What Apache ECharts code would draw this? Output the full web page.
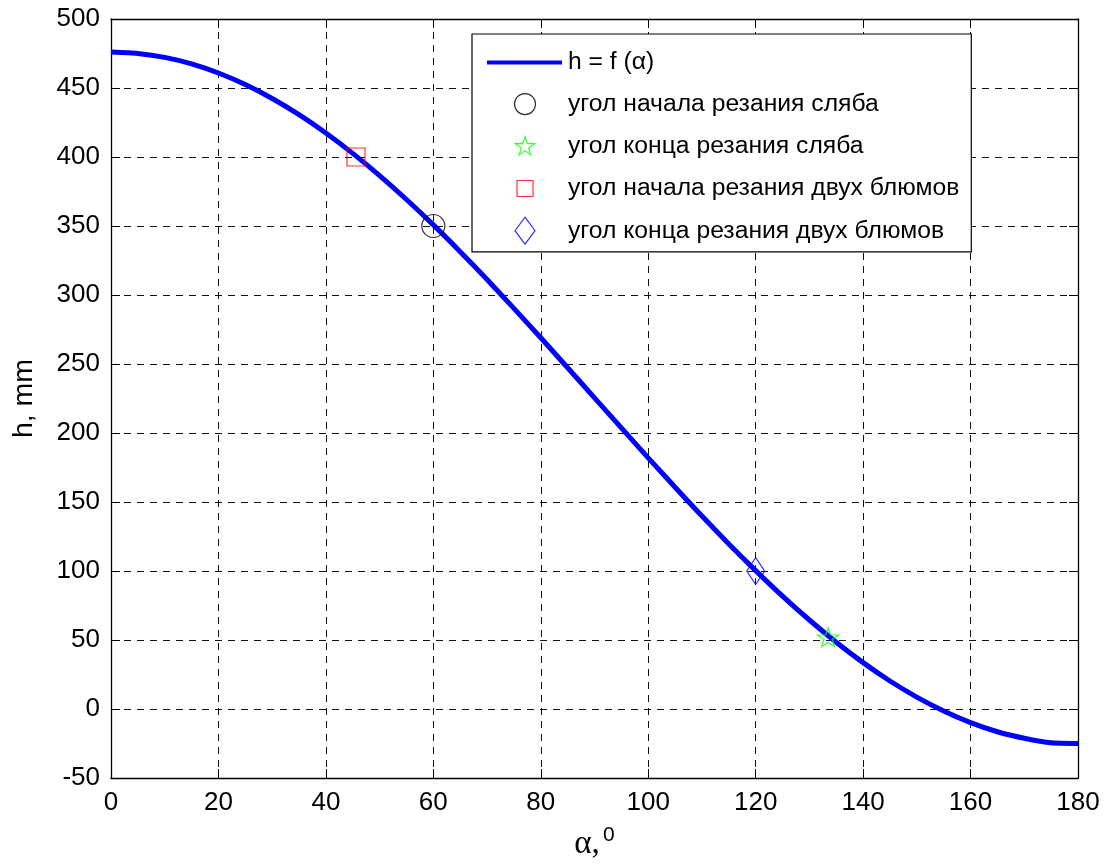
<!DOCTYPE html>
<html>
<head>
<meta charset="utf-8">
<title>h = f(α)</title>
<script src="https://cdn.jsdelivr.net/npm/echarts@6/dist/echarts.min.js"></script>
<style>
  html, body { margin: 0; padding: 0; background: #fff; }
  #chart { width: 1112px; height: 866px; }
</style>
</head>
<body>
<div id="chart"></div>
<script>
// данные
const alpha = [0, 5, 10, 15, 20, 25, 30, 35, 40, 45, 50, 55, 60, 65, 70, 75, 80, 85, 90,
  95, 100, 105, 110, 115, 120, 125, 130, 135, 140, 145, 150, 155, 160, 165, 170, 175, 180];
const h = [476, 475.0, 472.2, 467.5, 460.9, 452.5, 442.4, 430.7, 417.4, 402.6, 386.5, 369.2, 350.8,
  331.4, 311.2, 290.3, 269.0, 247.3, 225.5, 203.7, 182.0, 160.7, 139.8, 119.6, 100.3, 81.8, 64.5,
  48.4, 33.6, 20.3, 8.6, -1.5, -9.9, -16.5, -21.2, -24.5, -25];

const xTicks = [0, 20, 40, 60, 80, 100, 120, 140, 160, 180];
const yTicks = [-50, 0, 50, 100, 150, 200, 250, 300, 350, 400, 450, 500];

const lineName = 'h = f (α)';
const markerNames = [
  'угол начала резания сляба',
  'угол конца резания сляба',
  'угол начала резания двух блюмов',
  'угол конца резания двух блюмов'
];
const markerPoints = [[60, 350], [133.5, 52], [45.6, 400], [120, 100]];

// стили маркеров (как в matlab: o, p, s, d)
const FONT = '"Liberation Sans", Arial, sans-serif';
const STAR = 'M10,0L12.245,6.91L19.51,6.91L13.63,11.18L15.88,18.09L10,13.82L4.12,18.09L6.37,11.18L0.49,6.91L7.755,6.91Z';
const markerStyle = [
  { symbol: 'path://M21,10.5A10.5,10.5,0,1,1,0,10.5A10.5,10.5,0,1,1,21,10.5Z', size: [23, 23], color: '#000000',
    icon: 'path://M0,0M27,27M24,13.5A10.5,10.5,0,1,1,3,13.5A10.5,10.5,0,1,1,24,13.5Z' },
  { symbol: 'path://' + STAR, size: [21, 20], color: '#00ff00',
    icon: 'path://M-3.5,-4M23.5,23' + STAR },
  { symbol: 'path://M0,0L1,0L1,1L0,1Z', size: [18, 18], color: '#ff0000',
    icon: 'path://M0,0M27,27M5.5,5.5L21.5,5.5L21.5,21.5L5.5,21.5Z' },
  { symbol: 'path://M11,0L22,13.5L11,27L0,13.5Z', size: [22, 27], color: '#0000ff',
    icon: 'path://M0,0M27,27M13.5,0L23.5,13.5L13.5,27L3.5,13.5Z' }
];
// значок линии в легенде: полоса по ширине значка
const LINE_ICON = 'path://M0,0M76,27M0,11.5L75,11.5L75,15.5L0,15.5Z';

const chart = echarts.init(document.getElementById('chart'));

const gridLine = { show: true, lineStyle: { color: '#111', width: 1, type: [7, 6] } };
const axisLine = { show: true, onZero: false, lineStyle: { color: '#000', width: 1.3 } };
const axisTick = { show: true, inside: true, length: 9, lineStyle: { color: '#000', width: 1 } };

const xBase = { type: 'value', min: xTicks[0], max: xTicks[xTicks.length - 1], interval: xTicks[1] - xTicks[0] };
const yBase = { type: 'value', min: yTicks[0], max: yTicks[yTicks.length - 1], interval: yTicks[1] - yTicks[0] };

const series = [{
  name: lineName,
  type: 'line',
  data: alpha.map((a, i) => [a, h[i]]),
  symbol: 'none',
  showSymbol: false,
  smooth: 0.2,
  lineStyle: { color: '#0000ff', width: 5 },
  itemStyle: { color: '#0000ff' },
  z: 2
}];
markerNames.forEach((name, i) => {
  const m = markerStyle[i];
  series.push({
    name: name,
    type: 'scatter',
    data: [markerPoints[i]],
    symbol: m.symbol,
    symbolSize: m.size,
    symbolKeepAspect: true,
    itemStyle: { color: 'transparent', borderColor: m.color, borderWidth: 1.2 },
    emphasis: { disabled: true },
    z: 3
  });
});

chart.setOption({
  animation: false,
  backgroundColor: '#fff',
  textStyle: { fontFamily: FONT },
  grid: { left: 111, right: 34, top: 19, bottom: 88 },
  legend: {
    orient: 'vertical',
    left: 472,
    top: 34,
    padding: [15, 12, 7, 15],
    itemWidth: 76,
    itemHeight: 27,
    itemGap: 14,
    symbolKeepAspect: true,
    backgroundColor: '#fff',
    borderColor: '#000',
    borderWidth: 1.2,
    borderRadius: 0,
    selectedMode: false,
    textStyle: { fontSize: 24.7, lineHeight: 27, color: '#000', fontFamily: FONT },
    data: [{
      name: lineName,
      icon: LINE_ICON,
      itemStyle: { color: '#0000ff', borderWidth: 0 }
    }].concat(markerNames.map((name, i) => ({
      name: name,
      icon: markerStyle[i].icon,
      itemStyle: { color: 'transparent', borderColor: markerStyle[i].color, borderWidth: 1.2 }
    })))
  },
  xAxis: [
    Object.assign({}, xBase, {
      position: 'bottom',
      name: '{a|α,} {b|0}',
      nameLocation: 'middle',
      nameGap: 47,
      nameTextStyle: {
        color: '#000',
        rich: {
          a: { fontSize: 33, lineHeight: 36, fontFamily: '"Liberation Serif", serif', color: '#000', verticalAlign: 'bottom' },
          b: { fontSize: 21, lineHeight: 20, fontFamily: FONT, color: '#000', verticalAlign: 'top' }
        }
      },
      axisLine: axisLine,
      axisTick: axisTick,
      axisLabel: { fontSize: 26, color: '#000', margin: 12, fontFamily: FONT },
      splitLine: gridLine
    }),
    Object.assign({}, xBase, {
      position: 'top',
      axisLine: axisLine,
      axisTick: axisTick,
      axisLabel: { show: false },
      splitLine: { show: false }
    })
  ],
  yAxis: [
    Object.assign({}, yBase, {
      position: 'left',
      name: 'h, mm',
      nameLocation: 'middle',
      nameGap: 72,
      nameTextStyle: { fontSize: 28.5, color: '#000', fontFamily: FONT },
      axisLine: axisLine,
      axisTick: axisTick,
      axisLabel: { fontSize: 26, color: '#000', margin: 11, fontFamily: FONT },
      splitLine: gridLine
    }),
    Object.assign({}, yBase, {
      position: 'right',
      axisLine: axisLine,
      axisTick: axisTick,
      axisLabel: { show: false },
      splitLine: { show: false }
    })
  ],
  series: series
});
</script>
</body>
</html>
